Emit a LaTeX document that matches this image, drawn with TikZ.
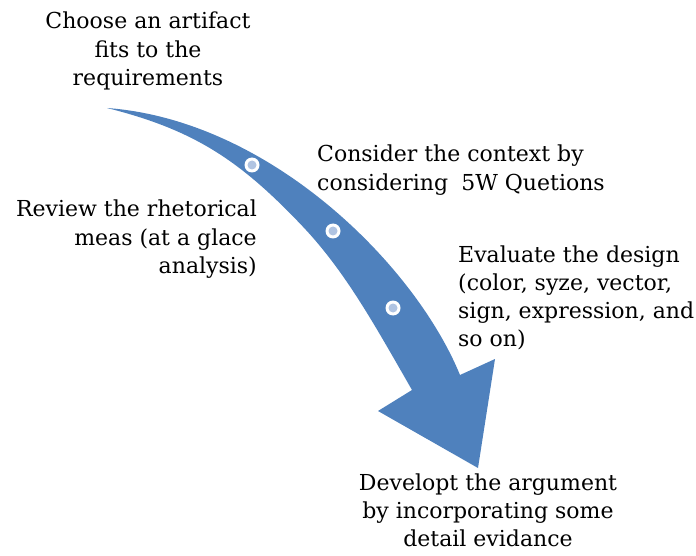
\documentclass[tikz,border=0pt]{standalone}
\usepackage{fontspec}
\setmainfont{DejaVu Serif}
\definecolor{arrowblue}{HTML}{4F81BD}
\definecolor{dotblue}{HTML}{B0C4E2}
\newcommand{\linesC}[1]{\begin{tabular}[t]{@{}c@{}}#1\end{tabular}}
\newcommand{\linesL}[1]{\begin{tabular}[t]{@{}l@{}}#1\end{tabular}}
\newcommand{\linesR}[1]{\begin{tabular}[t]{@{}r@{}}#1\end{tabular}}
\begin{document}
\begin{tikzpicture}[x=1pt,y=-1pt,
  txt/.style={inner sep=0pt, font=\fontsize{22}{28.3}\selectfont, text=black},
  ring/.style={circle, fill=white, minimum size=15pt, inner sep=0pt,
    path picture={\fill[dotblue] (path picture bounding box.center) circle (4.5pt);}}]
\useasboundingbox (0,0) rectangle (696,556);
% curved arrow
\fill[arrowblue] (107,108) .. controls (270,120) and (415,265) .. (460,375)
  -- (495,359) -- (478,468) -- (378,411) -- (412,390)
  .. controls (374.5,324.75) and (345.25,271.25) .. (301.9,225.6)
  .. controls (239.9,160.4) and (194.3,129.9) .. (107,108) -- cycle;
% dots
\node[ring] (d1) at (252,165) {};
\node[ring] (d2) at (333,231) {};
\node[ring] (d3) at (393,308) {};
% labels
\node[txt, anchor=base] (choose) at (148,29) {\linesC{Choose an artifact\\fits to the\\requirements}};
\node[txt, anchor=base west] (consider) at (317,162) {\linesL{Consider the context by\\considering\hspace{0.6em}5W Quetions}};
\node[txt, anchor=base east] (review) at (257,217) {\linesR{Review the rhetorical\\meas (at a glace\\analysis)}};
\node[txt, anchor=base west] (evaluate) at (458,262) {\linesL{Evaluate the design\\(color, syze, vector,\\sign, expression, and\\so on)}};
\node[txt, anchor=base] (develop) at (488,490) {\linesC{Developt the argument\\by incorporating some\\detail evidance}};
\end{tikzpicture}
\end{document}
